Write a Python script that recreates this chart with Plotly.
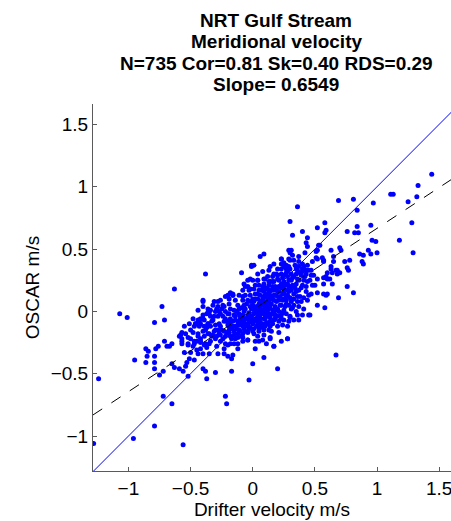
import plotly.graph_objects as go

# Drifter (x) vs OSCAR (y) meridional velocity, m/s
pts = [
(-0.38,0.30),(-0.63,0.18),(-1.07,-0.02),(-1.01,-0.05),(-0.73,0.04),(-0.79,-0.09),(-0.71,-0.07),
(-0.40,0.08),(-0.35,-0.01),(-0.40,-0.06),(-0.46,-0.10),(-0.43,-0.08),(-0.48,-0.17),(-0.57,-0.17),
(-0.59,-0.20),(-0.57,-0.22),(-0.52,-0.21),(-0.71,-0.24),(-0.69,-0.28),(-0.67,-0.28),(-0.65,-0.26),
(-0.76,-0.28),(-0.78,-0.30),(-0.86,-0.30),(-0.84,-0.32),(-0.85,-0.36),(-0.79,-0.36),(-0.86,-0.41),
(-0.95,-0.39),(-0.79,-0.41),(-0.57,-0.26),(-0.52,-0.26),(-0.55,-0.33),(-0.47,-0.26),(-0.45,-0.24),
(-0.42,-0.25),(-0.38,-0.26),(-0.48,-0.28),(-0.45,-0.31),(-0.42,-0.30),(-0.37,-0.29),(-0.50,-0.33),
(-0.44,-0.34),(-0.40,-0.34),(-0.35,-0.34),(-0.53,-0.41),(-0.51,-0.38),(-0.47,-0.39),(-0.54,-0.44),
(-0.65,-0.42),(-0.63,-0.45),(-0.59,-0.46),(-0.56,-0.48),(-0.79,-0.46),(-0.72,-0.48),(-0.75,-0.51),
(-0.52,-0.52),(-0.40,-0.46),(-0.38,-0.48),(-0.37,-0.54),(-1.24,-0.54),(-0.72,-0.68),(-0.65,-0.74),
(-0.79,-0.92),(-0.96,-1.02),(-1.28,-1.06),(-0.56,-1.07),(-0.36,-0.01),(-0.39,-0.07),(-0.42,-0.10),
(-0.36,-0.10),(-0.38,-0.15),(-0.44,-0.18),(-0.39,-0.20),(-0.35,-0.18),(-0.42,-0.22),(-0.35,-0.26),
(-0.09,0.31),(-0.01,0.37),(0.06,0.44),(0.09,0.46),(0.30,0.72),(0.32,0.61),(0.40,0.64),(0.52,0.67),
(0.58,0.71),(0.58,0.63),(0.44,0.59),(0.43,0.55),(0.53,0.53),(0.44,0.52),(0.51,0.48),(0.42,0.47),
(0.37,0.44),(0.29,0.49),(0.23,0.42),(0.25,0.39),(0.30,0.41),(0.23,0.38),(0.29,0.36),(0.27,0.34),
(0.35,0.36),(0.36,0.33),(0.40,0.34),(0.43,0.33),(0.47,0.33),(0.48,0.40),(0.52,0.42),(0.56,0.43),
(0.57,0.40),(0.65,0.44),(0.65,0.40),(0.63,0.34),(0.67,0.33),(0.68,0.30),(0.60,0.31),(0.57,0.27),
(0.60,0.26),(0.64,0.22),(0.52,0.26),(0.50,0.21),(0.52,0.15),(0.59,0.13),(0.52,0.05),(0.58,0.03),
(0.46,-0.03),(0.44,0.09),(0.41,0.11),(0.43,0.16),(0.37,0.17),(0.36,0.12),(0.35,0.00),(0.30,-0.05),
(0.27,-0.02),(0.23,-0.06),(0.28,-0.22),(0.23,-0.24),(0.17,-0.28),(0.14,-0.21),(0.04,-0.20),
(-0.04,-0.23),(-0.09,-0.20),(-0.30,-0.22),(-0.29,-0.28),(-0.39,-0.27),(-0.40,0.09),(-0.31,0.08),
(-0.29,0.02),(-0.34,0.01),(-0.37,-0.02),(-0.28,-0.04),(-0.24,-0.04),(-0.22,0.00),(-0.19,0.06),
(-0.16,0.13),(-0.19,0.10),(-0.18,0.02),(-0.12,0.05),(-0.08,0.09),(-0.06,0.13),(-0.04,0.20),
(-0.03,0.17),(0.00,0.25),(0.04,0.25),(0.09,0.26),(0.12,0.28),(0.14,0.24),(0.17,0.24),(0.19,0.18),
(0.16,0.20),(0.12,0.18),(0.08,0.20),(0.05,0.17),(0.02,0.14),(0.06,0.13),(0.10,0.13),(0.14,0.13),
(0.18,0.13),(0.21,0.16),(0.25,0.18),(0.28,0.22),(0.31,0.25),(0.33,0.28),(0.20,0.26),(0.23,0.30),
(0.25,0.29),(0.17,0.30),(0.28,0.28),(0.31,0.30),(0.32,0.21),(0.31,0.17),(0.28,0.13),(0.25,0.10),
(0.21,0.09),(0.17,0.09),(0.13,0.08),(0.09,0.08),(0.05,0.06),(0.01,0.08),(-0.02,0.04),(0.02,0.02),
(0.06,0.03),(0.10,0.03),(0.14,0.03),(0.18,0.04),(0.23,0.05),(0.27,0.06),(0.31,0.08),(0.33,0.05),
(0.31,0.02),(0.25,0.01),(0.21,0.00),(0.17,-0.01),(0.13,-0.02),(0.09,-0.02),(0.05,-0.02),(0.01,-0.02),
(-0.03,-0.02),(-0.07,0.00),(-0.11,-0.02),(-0.15,-0.03),(-0.18,-0.06),(-0.14,-0.07),(-0.10,-0.06),
(-0.06,-0.06),(-0.02,-0.06),(0.02,-0.06),(0.06,-0.06),(0.10,-0.06),(0.14,-0.05),(0.18,-0.06),
(0.16,-0.10),(0.12,-0.10),(0.08,-0.10),(0.04,-0.10),(0.00,-0.10),(-0.04,-0.10),(-0.08,-0.10),
(-0.12,-0.11),(-0.16,-0.12),(-0.20,-0.11),(-0.23,-0.08),(-0.26,-0.12),(-0.28,-0.15),(-0.23,-0.16),
(-0.19,-0.15),(-0.15,-0.16),(-0.11,-0.15),(-0.07,-0.14),(-0.03,-0.14),(0.01,-0.14),(0.05,-0.14),
(0.09,-0.15),(0.13,-0.15),(0.20,-0.12),(0.24,-0.11),(0.28,-0.12),(0.33,-0.07),(0.37,-0.07),
(0.40,-0.03),(0.41,0.02),(0.37,0.04),(-0.36,-0.10),(-0.32,-0.07),(-0.34,-0.12),(-0.40,-0.16),
(-0.36,-0.18),(-0.32,-0.19),(-0.26,-0.19),(-0.22,-0.20),(-0.18,-0.20),(-0.14,-0.22),(-0.26,-0.24),
(-0.22,-0.26),(-0.18,-0.26),(-0.12,-0.26),(-0.44,-0.20),(-0.47,-0.24),(-0.52,-0.27),(-0.58,-0.19),
(-0.57,-0.24),(-0.50,-0.15),(-0.46,-0.10),(-0.42,-0.06),(-0.36,0.02),(-0.32,0.05),(-0.28,0.08),
(-0.18,0.15),(-0.16,0.13),(-0.02,0.26),(0.02,0.21),(0.00,0.10),(0.01,0.02),(0.39,0.29),(0.43,0.30),
(0.49,0.29),(0.44,0.24),(0.48,0.21),(0.40,0.21),(0.35,0.16),(0.33,0.10),(0.45,0.13),(0.25,0.36),
(0.28,0.32),(0.20,0.34),(0.63,0.49),
(0.36,0.84),(0.59,0.65),(0.54,0.53),(0.52,0.49),(0.31,0.49),(0.30,0.47),(0.01,0.37),(-0.01,0.36),
(0.23,0.42),(0.29,0.42),(0.27,0.37),(0.35,0.34),(0.37,0.36),(0.40,0.32),(0.47,0.29),(0.51,0.43),
(0.57,0.41),(0.59,0.28),(0.62,0.26),(0.57,0.22),(0.04,0.25),(0.10,0.26),(0.16,0.28),(0.20,0.29),
(-0.04,0.25),(-0.06,0.20),(-0.02,0.18),(-0.16,0.14),(-0.20,0.13),(-0.08,0.12),(0.57,0.14),
(0.60,0.14),(0.47,0.14),
(1.44,1.10),(1.33,1.01),(1.32,0.92),(1.25,0.88),(1.11,0.94),(1.13,0.94),(0.81,0.90),(0.69,0.89),
(0.97,0.87),(0.84,0.81),(1.28,0.71),(0.95,0.69),(0.84,0.68),(0.76,0.64),(0.82,0.63),(0.85,0.63),
(0.96,0.57),(0.99,0.56),(1.18,0.57),(1.29,0.47),(0.70,0.51),(0.71,0.49),(0.74,0.40),(0.78,0.41),
(0.93,0.49),(0.86,0.46),(0.89,0.45),(0.95,0.46),(1.00,0.47),(0.88,0.40),(0.89,0.38),(0.63,0.36),
(0.68,0.33),(0.64,0.31),(0.70,0.31),(0.76,0.35),(0.77,0.33),(0.76,0.20),(0.81,0.15),(0.69,0.11),
(0.45,-0.03),(0.36,-0.03),(0.30,-0.04),(0.28,-0.22),(0.17,-0.28),(0.14,-0.22),(0.21,-0.17),
(0.15,-0.16),(0.05,-0.24),(-0.04,-0.23),(-0.15,-0.26),(-0.20,-0.27),(-0.23,-0.34),(-0.20,-0.36),
(-0.16,-0.35),(-0.17,-0.38),(-0.28,-0.34),(0.09,-0.37),(0.00,-0.42),(0.20,-0.46),(-0.17,-0.48),
(-0.30,-0.49),(-0.03,-0.55),(-0.22,-0.68),(-0.21,-0.74),(0.67,-0.35),
(-0.31,-0.04),(-0.27,0.00),(-0.23,0.04),(-0.14,0.09),(-0.11,0.13),(-0.08,0.17),(-0.07,0.22),
(0.04,0.30),(0.08,0.32),(0.13,0.33),(0.14,0.36),(0.17,0.38),(0.09,0.22),(0.13,0.21),(0.04,0.10),
(-0.04,0.09),(-0.07,0.05),(-0.11,0.02),(-0.15,0.01),(-0.19,-0.02),(-0.22,-0.06),(-0.08,-0.03),
(-0.04,-0.04),(0.04,-0.04),(0.08,0.01),(0.12,0.01),(0.16,0.01),(0.20,0.02),(0.24,0.09),(0.27,0.12),
(0.29,0.16),(0.24,0.14),(0.20,0.12),(0.16,0.10),(0.12,0.10),(0.08,0.10),(0.17,0.17),(0.13,0.16),
(0.09,0.16),(0.05,0.21),(0.01,0.18),(-0.02,0.13),(0.23,0.22),(0.25,0.24),(0.21,0.20),(0.29,0.20),
(0.35,0.22),(0.37,0.25),(0.41,0.25),(0.35,0.30),(0.37,0.40),(0.33,0.41),(0.32,0.45),(0.40,0.38),
(0.44,0.37),(0.36,0.08),(0.39,0.08),(0.29,0.05),(0.23,-0.03),(0.18,-0.03),(0.14,-0.03),(0.10,-0.03),
(0.06,-0.03),(0.00,-0.07),(-0.03,-0.07),(-0.07,-0.08),(-0.12,-0.08),(-0.16,-0.08),(-0.19,-0.12),
(-0.14,-0.12),(-0.08,-0.12),(-0.04,-0.12),(0.06,-0.12),(0.10,-0.12),(0.14,-0.12),(0.17,-0.07),
(0.21,-0.08),(0.25,-0.07),(0.29,-0.08),(-0.34,-0.04),(-0.40,-0.03),(-0.44,-0.07),(-0.47,-0.12),
(-0.43,-0.12),(-0.39,-0.12),(-0.30,-0.11),(-0.31,-0.16),(-0.27,-0.18),(-0.19,-0.18),(-0.12,-0.18),
(-0.08,-0.18),(0.01,-0.18),(0.09,-0.19),(0.08,-0.23),(0.02,-0.24),(-0.08,-0.24),(-0.34,-0.24),
(-0.42,-0.24),(-0.50,-0.22),(-0.54,-0.18),(-0.55,-0.12),(-0.51,-0.10),(-0.48,-0.06),(-0.44,0.01),
(-0.40,0.04),(-0.26,0.09),(-0.22,0.12),(-0.24,0.05),(-0.28,0.04),
# overlapping points in the dense core
(-0.33,-0.20),(-0.30,-0.15),(-0.27,-0.10),(-0.25,-0.15),(-0.24,-0.22),(-0.21,-0.17),(-0.21,-0.08),
(-0.20,-0.02),(-0.18,-0.09),(-0.17,-0.14),(-0.17,-0.22),(-0.15,-0.19),(-0.14,-0.04),(-0.13,-0.14),
(-0.13,0.00),(-0.12,-0.21),(-0.11,-0.11),(-0.10,-0.04),(-0.10,-0.16),(-0.09,0.03),(-0.09,-0.08),
(-0.08,-0.21),(-0.07,-0.06),(-0.06,-0.16),(-0.06,0.02),(-0.05,-0.11),(-0.05,0.06),(-0.04,-0.17),
(-0.03,-0.01),(-0.03,-0.09),(-0.02,0.08),(-0.02,-0.13),(-0.01,-0.04),(-0.01,0.02),(0.00,-0.16),
(0.00,0.05),(0.01,-0.08),(0.02,-0.01),(0.02,0.10),(0.03,-0.12),(0.03,0.04),(0.04,-0.07),(0.04,0.14),
(0.05,0.01),(0.05,-0.16),(0.06,0.08),(0.06,-0.09),(0.07,0.17),(0.07,-0.01),(0.08,0.05),(0.08,-0.13),
(0.09,0.12),(0.09,-0.06),(0.10,0.19),(0.10,0.00),(0.11,0.06),(0.11,-0.09),(0.12,0.14),(0.12,-0.04),
(0.13,0.24),(0.13,0.04),(0.14,0.10),(0.14,-0.08),(0.15,0.17),(0.15,0.06),(0.16,-0.02),(0.16,0.24),
(0.17,0.13),(0.18,0.01),(0.18,0.20),(0.19,0.08),(0.19,0.30),(0.20,-0.04),(0.20,0.16),(0.21,0.25),
(0.22,0.05),(0.22,0.12),(0.23,0.19),(0.23,0.34),(0.24,-0.01),(0.24,0.27),(0.25,0.15),(0.26,0.21),
(0.26,0.04),(0.27,0.31),(0.27,0.09),(0.28,0.17),(0.29,0.25),(0.30,0.11),(0.30,0.34),(0.31,0.20),
(0.32,0.03),(0.32,0.27),(0.33,0.14),(0.34,0.37),(0.34,0.19),(0.36,0.26),(0.38,0.12),(0.38,0.31),
(0.39,0.19),(0.41,0.36),(0.42,0.28),(0.43,0.20),(0.45,0.33),(0.46,0.25),(-0.26,-0.02),(-0.25,0.02),
(-0.30,0.00),(-0.33,-0.08),(-0.29,-0.20),(-0.37,-0.13),(-0.23,-0.30),(-0.12,-0.30),(0.02,-0.30),
(0.11,-0.26),
]
drifter = [p[0] for p in pts]
oscar = [p[1] for p in pts]

slope = 0.6549
intercept = 0.011
x_range = [-1.285, 1.595]
y_range = [-1.28, 1.663]

tick_vals = [-1, -0.5, 0, 0.5, 1, 1.5]
tick_text = ["\u22121", "\u22120.5", "0", "0.5", "1", "1.5"]

title_lines = ["NRT Gulf Stream", "Meridional velocity",
               "N=735 Cor=0.81 Sk=0.40 RDS=0.29", "Slope= 0.6549"]

FONT = "Liberation Sans, Arial, sans-serif"
FS = 19

fig = go.Figure()
fig.add_trace(go.Scatter(x=drifter, y=oscar, mode="markers",
                         marker=dict(color="#0000ff", size=5, line=dict(width=0)),
                         showlegend=False, hoverinfo="skip"))
# identity line
lo, hi = -1.285, 1.7
fig.add_trace(go.Scatter(x=[lo, hi], y=[lo, hi], mode="lines",
                         line=dict(color="#0000ff", width=1), showlegend=False,
                         hoverinfo="skip"))
# regression line
fig.add_trace(go.Scatter(x=[lo, hi], y=[slope * lo + intercept, slope * hi + intercept],
                         mode="lines", line=dict(color="black", width=1, dash="11px,11px"),
                         showlegend=False, hoverinfo="skip"))

axis_common = dict(showline=True, linecolor="#5a5a5a", linewidth=1, mirror=False,
                   ticks="inside", ticklen=4, tickcolor="#5a5a5a", showgrid=False,
                   zeroline=False, tickvals=tick_vals, ticktext=tick_text, automargin=False,
                   ticklabeloverflow="allow",
                   tickfont=dict(family=FONT, size=FS, color="black"))

fig.update_xaxes(range=x_range, title=dict(text="Drifter velocity m/s", standoff=0,
                 font=dict(family=FONT, size=FS, color="black")),
                 **axis_common)
fig.update_yaxes(range=y_range, title=dict(text="OSCAR m/s", standoff=6,
                 font=dict(family=FONT, size=FS, color="black")),
                 **axis_common)

for i, line in enumerate(title_lines):
    fig.add_annotation(text="<b>%s</b>" % line, xref="paper", yref="paper",
                       x=0.5116, y=1, yshift=84 - 21.5 * i, xanchor="center",
                       yanchor="middle", showarrow=False,
                       font=dict(family=FONT, size=FS, color="black"))

fig.update_layout(width=451, height=521, margin=dict(l=93, r=0, t=104, b=50),
                  plot_bgcolor="white", paper_bgcolor="white")
fig.write_html("out.html", config={"displayModeBar": False},
               post_script="document.body.style.margin='0';document.body.style.overflow='hidden';")
